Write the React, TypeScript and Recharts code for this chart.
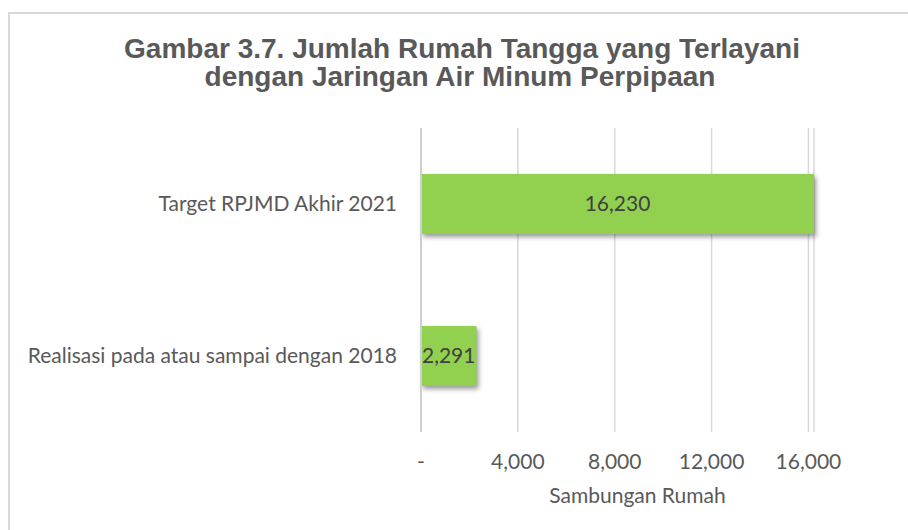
import { BarChart, Bar, XAxis, YAxis, CartesianGrid, LabelList } from 'recharts'

const kategori = ['Target RPJMD Akhir 2021', 'Realisasi pada atau sampai dengan 2018']
const sambungan = [16230, 2291]
const tickNilai = [0, 4000, 8000, 12000, 16000]

const data = kategori.map((nama, i) => ({ nama, nilai: sambungan[i] }))

const TEKS = '#595959'
const HIJAU = '#92D050'
const FONT = 'Lato, "Open Sans", sans-serif'

function formatAngka(v: number): string {
  if (v === 0) return '-'
  return v.toLocaleString('en-US')
}

type BarShapeProps = { x?: number; y?: number; width?: number; height?: number }

// batang dengan bayangan ala Excel
function BatangBayangan(props: BarShapeProps) {
  const { x = 0, y = 0, width = 0, height = 0 } = props
  return (
    <rect
      x={x}
      y={y}
      width={width}
      height={height}
      fill={HIJAU}
      style={{ filter: 'drop-shadow(2px 3px 2.5px rgba(0,0,0,0.4))' }}
    />
  )
}

const judulStyle = {
  position: 'absolute' as const,
  left: 0,
  width: 924,
  textAlign: 'center' as const,
  fontFamily: '"Liberation Sans", Arial, sans-serif',
  fontWeight: 700,
  fontSize: 28,
  lineHeight: '28px',
  color: TEKS,
  whiteSpace: 'nowrap' as const,
}

export default function App() {
  return (
    <div
      style={{
        position: 'absolute',
        left: 0,
        top: 0,
        width: 908,
        height: 530,
        background: '#ffffff',
        overflow: 'hidden',
      }}
    >
      <div
        style={{
          position: 'absolute',
          left: 8,
          top: 12,
          width: 1000,
          height: 600,
          borderTop: '2px solid #d9d9d9',
          borderLeft: '2px solid #d9d9d9',
        }}
      />
      <div style={{ ...judulStyle, top: 35 }}>Gambar 3.7. Jumlah Rumah Tangga yang Terlayani</div>
      <div style={{ ...judulStyle, top: 63, left: -2 }}>dengan Jaringan Air Minum Perpipaan</div>
      <div style={{ position: 'absolute', left: 0, top: 0 }}>
        <BarChart
          width={908}
          height={530}
          data={data}
          layout="vertical"
          margin={{ top: 128, right: 94, bottom: 18, left: 0 }}
          barSize={60}
        >
          <CartesianGrid horizontal={false} stroke="#d9d9d9" strokeWidth={1.5} />
          <XAxis
            type="number"
            dataKey="nilai"
            domain={[0, 'dataMax']}
            ticks={tickNilai}
            tickFormatter={formatAngka}
            axisLine={false}
            tickLine={false}
            height={80}
            tickMargin={16}
            tick={{ fill: TEKS, fontSize: 21, fontFamily: FONT }}
            label={{
              value: 'Sambungan Rumah',
              position: 'insideBottom',
              offset: 9,
              dx: 20,
              fill: TEKS,
              fontSize: 21,
              fontFamily: FONT,
            }}
          />
          <YAxis
            type="category"
            dataKey="nama"
            width={421}
            axisLine={{ stroke: '#cfcfcf', strokeWidth: 2 }}
            tickLine={false}
            tickMargin={18}
            tick={{ fill: TEKS, fontSize: 21, fontFamily: FONT }}
          />
          <Bar dataKey="nilai" fill={HIJAU} shape={BatangBayangan} isAnimationActive={false}>
            <LabelList
              dataKey="nilai"
              position="center"
              formatter={(v: number) => formatAngka(v)}
              fill="#404040"
              fontSize={21}
              fontFamily={FONT}
            />
          </Bar>
        </BarChart>
      </div>
    </div>
  )
}
